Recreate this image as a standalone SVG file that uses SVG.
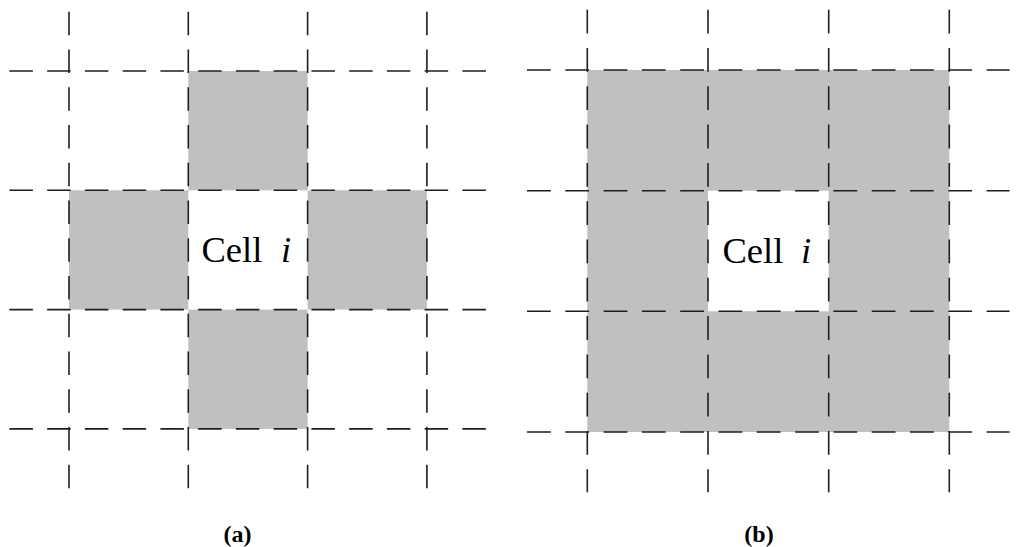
<svg xmlns="http://www.w3.org/2000/svg" width="1024" height="547" viewBox="0 0 1024 547">
<style>
.bg{fill:#ffffff}
.shade{fill:#c0c0c0}
.gl{stroke:#1e1e1e;stroke-width:1.6;fill:none;stroke-dasharray:23.5 14.25}
.gr{stroke:#1e1e1e;stroke-width:1.6;fill:none;stroke-dasharray:23.8 14.5}
.lbl{font-family:"Liberation Serif",serif;font-size:36.5px;fill:#000}
.cap{font-family:"Liberation Serif",serif;font-size:24px;font-weight:bold;fill:#000;text-anchor:middle}
</style>
<rect class="bg" x="0" y="0" width="1024" height="547"/>
<g id="panel-a">
  <g id="shade-a">
    <rect class="shade" x="188.3" y="71" width="119.3" height="119.3"/>
    <rect class="shade" x="69" y="190.3" width="119.3" height="119.3"/>
    <rect class="shade" x="307.6" y="190.3" width="119.3" height="119.3"/>
    <rect class="shade" x="188.3" y="309.6" width="119.3" height="119.3"/>
  </g>
  <g id="grid-a">
    <line class="gl" x1="69" y1="11.7" x2="69" y2="488.5"/>
    <line class="gl" x1="188.3" y1="11.7" x2="188.3" y2="488.5"/>
    <line class="gl" x1="307.6" y1="11.7" x2="307.6" y2="488.5"/>
    <line class="gl" x1="426.9" y1="11.7" x2="426.9" y2="488.5"/>
    <line class="gl" x1="9.4" y1="71" x2="486.5" y2="71"/>
    <line class="gl" x1="9.4" y1="190.3" x2="486.5" y2="190.3"/>
    <line class="gl" x1="9.4" y1="309.6" x2="486.5" y2="309.6"/>
    <line class="gl" x1="9.4" y1="428.9" x2="486.5" y2="428.9"/>
  </g>
  <g id="cell-a">
    <text class="lbl" x="201.5" y="261.7">Cell</text>
    <text class="lbl" x="281" y="261.7" font-style="italic">i</text>
  </g>
  <text id="caption-a" class="cap" x="237.5" y="541.5">(a)</text>
</g>
<g id="panel-b">
  <g id="shade-b">
    <path class="shade" fill-rule="evenodd" d="M587.3 70H949.3V432H587.3Z M708 190.7V311.3H828.7V190.7Z"/>
  </g>
  <g id="grid-b">
    <line class="gr" x1="587.3" y1="9.7" x2="587.3" y2="492.3"/>
    <line class="gr" x1="708" y1="9.7" x2="708" y2="492.3"/>
    <line class="gr" x1="828.7" y1="9.7" x2="828.7" y2="492.3"/>
    <line class="gr" x1="949.3" y1="9.7" x2="949.3" y2="492.3"/>
    <line class="gr" x1="527" y1="70" x2="1009.6" y2="70"/>
    <line class="gr" x1="527" y1="190.7" x2="1009.6" y2="190.7"/>
    <line class="gr" x1="527" y1="311.3" x2="1009.6" y2="311.3"/>
    <line class="gr" x1="527" y1="432" x2="1009.6" y2="432"/>
  </g>
  <g id="cell-b">
    <text class="lbl" x="722.5" y="263.3">Cell</text>
    <text class="lbl" x="801" y="263.3" font-style="italic">i</text>
  </g>
  <text id="caption-b" class="cap" x="759" y="541.5">(b)</text>
</g>
</svg>
